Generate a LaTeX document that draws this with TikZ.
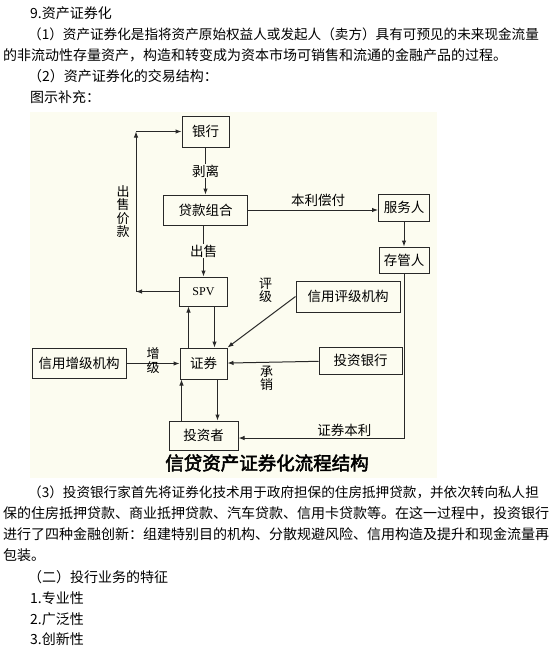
\documentclass[tikz,border=0pt]{standalone}
\usepackage{fontspec}
\newfontfamily\cjk{Noto Sans CJK SC}
\newfontfamily\cjkbold[FakeBold=2.5]{Noto Sans CJK SC}
\newfontfamily\spvfont{Liberation Serif}
\usetikzlibrary{arrows.meta,positioning}
\definecolor{paper}{RGB}{252,252,240}
\definecolor{ink}{RGB}{40,40,40}

\begin{document}
\begin{tikzpicture}[
  x=1pt,y=-1pt,
  >={Latex[length=6pt,width=4.5pt]},
  textline/.style={anchor=west,inner sep=0pt,font=\cjk\fontsize{14}{14}\selectfont},
  longline/.style={textline,font=\cjk\fontsize{13.6}{14}\selectfont},
  box/.style={draw=ink,line width=1pt,fill=paper,inner sep=0pt,minimum height=29pt,align=center,font=\cjk\fontsize{13.5}{14}\selectfont},
  lowbox/.style={box,minimum height=27pt},
  lbl/.style={inner sep=1pt,align=center,font=\cjk\fontsize{13.5}{14}\selectfont},
  vlbl/.style={lbl,font=\cjk\fontsize{13}{13.5}\selectfont},
  flow/.style={->,draw=ink,line width=1pt},
]
\useasboundingbox (0,0) rectangle (550,646);
\fill[white] (0,0) rectangle (550,646);

% text above the figure
\node[textline] (title) at (30,13) {9.资产证券化};
\node[longline] (para1a) at (28,34) {（1）资产证券化是指将资产原始权益人或发起人（卖方）具有可预见的未来现金流量};
\node[textline] (para1b) at (3,55) {的非流动性存量资产，构造和转变成为资本市场可销售和流通的金融产品的过程。};
\node[textline] (para2) at (28,76) {（2）资产证券化的交易结构：};
\node[textline] (figtag) at (30,97) {图示补充：};

% figure
\fill[paper] (30,112) rectangle (437,478);

\node[box,minimum width=47pt,minimum height=31pt] (bank) at (205.5,131.5) {银行};
\node[box,minimum width=84pt,minimum height=30pt,below=47pt of bank] (pool) {贷款组合};
\node[box,minimum width=48pt,font=\spvfont\fontsize{12}{12}\selectfont,below=51pt of pool,xshift=-2pt] (spv) {SPV};
\node[box,minimum width=47pt,minimum height=31pt,below=41pt of spv] (sec) {证券};
\node[box,minimum width=69pt,below=41pt of sec] (investor) {投资者};
\node[box,minimum width=94pt,minimum height=30pt,left=53pt of sec] (enhance) {信用增级机构};
\node[lowbox,minimum width=51pt,right=130pt of pool,yshift=2.5pt] (servicer) {服务人};
\node[lowbox,minimum width=50pt,minimum height=26pt,below=25pt of servicer] (trustee) {存管人};
\node[box,minimum width=104pt,minimum height=31pt] (rating) at (348,296.5) {信用评级机构};
\node[lowbox,minimum width=83pt] (ibank) at (360.5,360.5) {投资银行};

\coordinate (loopbot) at ([xshift=-43pt]spv.west);
\coordinate (looptop) at (loopbot |- bank.west);
\coordinate (paybk) at (trustee.south |- 0,438);

\draw[flow] (bank) -- node[lbl,fill=paper]{剥离} (pool);
\draw[flow] (pool.south -| spv) -- node[lbl,fill=paper]{出售} (spv);
\draw[flow] (pool) -- node[lbl,above=2pt,xshift=5pt]{本利偿付} (pool -| servicer.west);
\draw[flow] (servicer) -- (trustee);
\draw[flow] (trustee.south) -- (paybk) -- node[lbl,above,pos=0.36]{证券本利} (investor.east |- paybk);
\draw[flow] (spv.west) -- (loopbot);
\draw[flow] (loopbot) -- node[vlbl,left=5pt]{出\\售\\价\\款} (looptop);
\draw[flow] (looptop) -- (bank.west);
\draw[flow] (rating.west) -- node[vlbl,pos=0,xshift=-30pt,yshift=6pt]{评\\级} (sec.north east);
\draw[flow] (ibank) -- node[vlbl,below=2pt,pos=0.57]{承\\销} (sec);
\draw[flow] (enhance) -- node[vlbl,midway,yshift=3pt]{增\\级} (sec);
\draw[flow] ([xshift=-15pt]sec.north) -- ([xshift=-15pt]spv.south);
\draw[flow] ([xshift=11pt]spv.south) -- ([xshift=11pt]sec.north);
\draw[flow] ([xshift=-22pt]investor.north) -- ([xshift=-22pt]sec.south);
\draw[flow] ([xshift=14pt]sec.south) -- ([xshift=14pt]investor.north);

\node[inner sep=0pt,font=\cjkbold\fontsize{18.5}{18.5}\selectfont] (caption) at (267,463) {信贷资产证券化流程结构};

% text below the figure
\node[longline] (para3a) at (28,492) {（3）投资银行家首先将证券化技术用于政府担保的住房抵押贷款，并依次转向私人担};
\node[textline] (para3b) at (3,513) {保的住房抵押贷款、商业抵押贷款、汽车贷款、信用卡贷款等。在这一过程中，投资银行};
\node[textline] (para3c) at (3,534) {进行了四种金融创新：组建特别目的机构、分散规避风险、信用构造及提升和现金流量再};
\node[textline] (para3d) at (3,555) {包装。};
\node[textline] (part2) at (28,577) {（二）投行业务的特征};
\node[textline] (item1) at (30,598) {1.专业性};
\node[textline] (item2) at (30,619) {2.广泛性};
\node[textline] (item3) at (30,639) {3.创新性};
\end{tikzpicture}
\end{document}
